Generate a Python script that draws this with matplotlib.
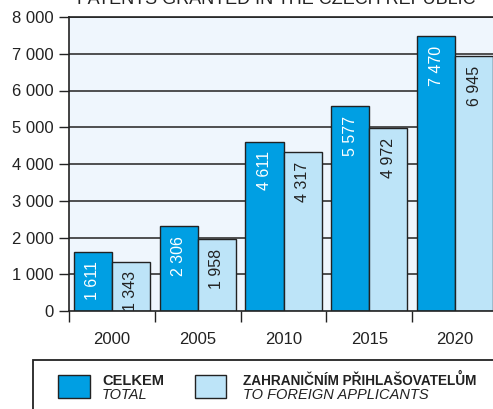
import matplotlib.pyplot as plt
from matplotlib.patches import Rectangle
import numpy as np

plt.rcParams['font.family'] = ['Liberation Sans', 'DejaVu Sans']

# Data
years = ['2000', '2005', '2010', '2015', '2020']
total = [1611, 2306, 4611, 5577, 7470]
foreign = [1343, 1958, 4317, 4972, 6945]
yticks = [0, 1000, 2000, 3000, 4000, 5000, 6000, 7000, 8000]

dark_blue = '#009fe3'
light_blue = '#bde4f8'
bg = '#eff6fd'
ink = '#222222'


def fmt(v):
    return f'{v:,}'.replace(',', ' ')


W, H = 493, 409
fig = plt.figure(figsize=(W / 100, H / 100), dpi=100)
ax = fig.add_axes([69 / W, (H - 311) / H, (498 - 69) / W, (311 - 17) / H])
ax.set_facecolor(bg)

x = np.arange(len(years))
w = 0.445

# Gridlines behind bars
for v in yticks[1:]:
    ax.axhline(v, color='#333333', lw=1.2, zorder=1)

ax.bar(x - w / 2, total, w, color=dark_blue, edgecolor=ink, lw=1, zorder=2)
ax.bar(x + w / 2, foreign, w, color=light_blue, edgecolor=ink, lw=1, zorder=2)

# Values written inside the bars
for xi, v in zip(x - w / 2, total):
    ax.annotate(fmt(v), (xi, v), xytext=(0, -7), textcoords='offset points',
                rotation=90, ha='center', va='top', color='white', fontsize=11.5, zorder=3)
for xi, v in zip(x + w / 2, foreign):
    ax.annotate(fmt(v), (xi, v), xytext=(0, -7), textcoords='offset points',
                rotation=90, ha='center', va='top', color='#222222', fontsize=11.5, zorder=3)

ax.set_xlim(-0.5, 4.5)
ax.set_ylim(0, 8000)
ax.set_yticks(yticks)
ax.set_yticklabels([fmt(v) for v in yticks], fontsize=12, color='#222222')
ax.tick_params(axis='y', length=7, width=1, pad=4, color=ink)

# Category boundaries as major ticks, labels on minor ticks
ax.set_xticks(np.arange(-0.5, 5, 1.0))
ax.set_xticklabels([])
ax.set_xticks(x, minor=True)
ax.set_xticklabels(years, minor=True, fontsize=12, color='#222222')
ax.tick_params(axis='x', which='major', length=8, width=1, color=ink)
ax.tick_params(axis='x', which='minor', length=0, pad=15)

for s in ax.spines.values():
    s.set_color(ink)
    s.set_linewidth(1.2)

# Title
fig.text(77 / W, 1 - 4 / H, 'PATENTS GRANTED IN THE CZECH REPUBLIC',
         fontsize=13, ha='left', va='baseline', color='#222222')

# Legend box
fig.patches.append(Rectangle((33 / W, -0.1), 1.0, (H - 360) / H + 0.1,
                             transform=fig.transFigure, fill=False, ec=ink, lw=1.3))
fig.patches.append(Rectangle((58 / W, 1 - 398 / H), 32 / W, 23 / H,
                             transform=fig.transFigure, fc=dark_blue, ec=ink, lw=1))
fig.patches.append(Rectangle((195 / W, 1 - 398 / H), 31 / W, 23 / H,
                             transform=fig.transFigure, fc=light_blue, ec=ink, lw=1))
fig.text(102 / W, 1 - 385 / H, 'CELKEM', fontsize=10.5, weight='bold', color=ink)
fig.text(102 / W, 1 - 399 / H, 'TOTAL', fontsize=10.5, style='italic', color=ink)
fig.text(243 / W, 1 - 385 / H, 'ZAHRANIČNÍM PŘIHLAŠOVATELŮM', fontsize=9.8,
         weight='bold', color=ink)
fig.text(243 / W, 1 - 399 / H, 'TO FOREIGN APPLICANTS', fontsize=10.5,
         style='italic', color=ink)

fig.savefig('out.png', dpi=100)
